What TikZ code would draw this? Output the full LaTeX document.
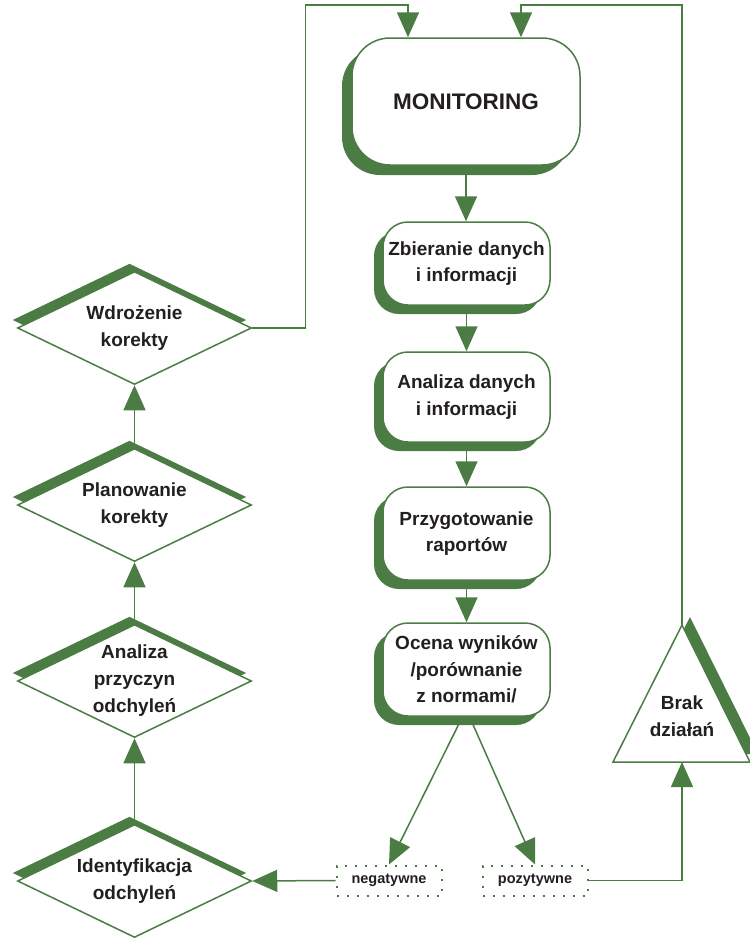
\documentclass[tikz,border=0pt]{standalone}
\usepackage{fontspec}
\setmainfont{Liberation Sans}
\usetikzlibrary{shapes.geometric,arrows.meta,shadows,calc}
\definecolor{gr}{RGB}{74,124,68}
\definecolor{tx}{RGB}{35,31,32}
\begin{document}
\begin{tikzpicture}[x=1pt,y=-1pt,
  arr/.style={draw=gr,line width=1.5pt,-{Triangle[length=25pt,width=22pt]}},
  sh/.style={general shadow={fill=gr,shadow xshift=-#1,shadow yshift=-#1}},
  rbox/.style={draw=gr,fill=white,line width=1.5pt,rounded corners=25pt,minimum width=167pt,inner sep=0pt,align=center,text=tx,font=\fontsize{19}{26.5}\selectfont\bfseries},
  dia/.style={diamond,draw=gr,fill=white,line width=1.5pt,minimum width=234pt,minimum height=113pt,inner sep=0pt,general shadow={fill=gr,shadow xshift=-5pt,shadow yshift=8pt}},
  dtext/.style={align=center,text=tx,font=\fontsize{19}{27}\selectfont\bfseries},
  dotbox/.style={draw=gr,line width=2pt,dash pattern=on 2pt off 8pt,fill=white,minimum width=105pt,minimum height=30pt,inner sep=0pt,text=tx,font=\fontsize{14.5}{17}\selectfont\bfseries}
]
\useasboundingbox (0,0) rectangle (750,938);
\coordinate (topy) at (0,5);

% main column
\node[rbox,sh=10pt,minimum width=228pt,minimum height=127pt,rounded corners=38pt,font=\fontsize{22.5}{27}\selectfont\bfseries] (mon) at (466,101.5) {MONITORING};
\node[rbox,sh=9pt,minimum height=83pt] (z1) at (466.5,263.5) {Zbieranie danych\\i informacji};
\node[rbox,sh=9pt,minimum height=90pt] (z2) at (466.5,397) {Analiza danych\\ i informacji};
\node[rbox,sh=9pt,minimum height=93pt] (z3) at (466.5,533.5) {Przygotowanie\\raportów};
\node[rbox,sh=9pt,minimum height=93pt] (z4) at (466.5,669.5) {Ocena wyników\\/porównanie\\ z normami/};

% diamonds
\node[dia,label={[dtext]center:{Wdrożenie\\korekty}}] (wd) at (134.5,328) {};
\node[dia,label={[dtext]center:{Planowanie\\korekty}}] (plk) at (134.5,505) {};
\node[dia,label={[dtext]center:{Analiza\\przyczyn\\odchyleń}}] (apz) at (134.5,681) {};
\node[dia,label={[dtext]center:{Identyfikacja\\odchyleń}}] (idf) at (134.5,881) {};

% triangle
\coordinate (ta) at (682,625);
\coordinate (tl) at (613,762);
\coordinate (tr) at (750,762);
\coordinate (tb) at (682,762);
\fill[gr] ($(ta)+(8,-8)$) -- ($(tl)+(8,-8)$) -- ($(tr)+(8,-8)$) -- cycle;
\draw[gr,fill=white,line width=1.5pt,line join=miter] (ta) -- (tl) -- (tr) -- cycle;
\node[dtext] (brak) at (682,716) {Brak\\działań};

% outcome labels
\node[dotbox] (neg) at (389,880.5) {negatywne};
\node[dotbox] (pos) at (535,880.5) {pozytywne};

% connectors
\draw[arr] (mon.south) -- (mon.south |- z1.north);
\draw[arr] (z1.south) -- (z2.north);
\draw[arr] (z2.south) -- (z3.north);
\draw[arr] (z3.south) -- (z4.north);
\draw[arr] ([xshift=-4pt]z4.south) -- (neg.north);
\draw[arr] ([xshift=3pt]z4.south) -- (pos.north);
\draw[arr] (neg.west) -- (idf.east);
\draw[arr] (pos.east) -| (tb);
\draw[arr] (ta) -- (ta |- topy) -| ([xshift=55pt]mon.north);
\draw[arr] (wd.east) -- ([xshift=53pt]wd.east) |- ([xshift=-58pt]mon.north |- topy) -- ([xshift=-58pt]mon.north);
\draw[arr] (idf.north) -- (apz.south);
\draw[arr] (apz.north) -- (plk.south);
\draw[arr] (plk.north) -- (wd.south);
\end{tikzpicture}
\end{document}
